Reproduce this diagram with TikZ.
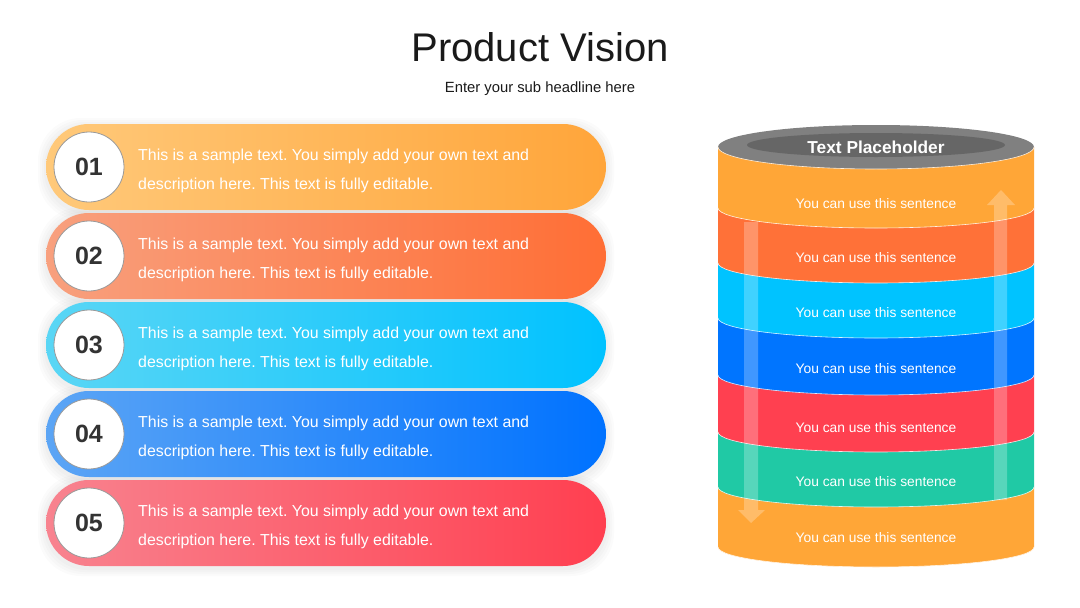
\documentclass[tikz,border=0pt]{standalone}
\usepackage{fontspec}
\setmainfont{Liberation Sans}
\frenchspacing
\begin{document}
\begin{tikzpicture}[x=1pt,y=-1pt,
  pill/.style={minimum width=560pt,minimum height=86pt,rounded corners=43pt,inner sep=0pt},
  pshadow/.style={fill=black,fill opacity=0.014,rounded corners=43pt},
  numcirc/.style={circle,fill=white,draw=black!40,line width=0.8pt,minimum size=70pt,inner sep=0pt,
    font=\fontsize{25}{28}\selectfont\bfseries,text=black!80},
  desc/.style={anchor=west,align=left,text=white,inner sep=0pt,font=\fontsize{15.9}{29}\selectfont},
  bandtxt/.style={text=white,inner sep=0pt,font=\fontsize{13.8}{16}\selectfont},
  arr/.style={fill=white,fill opacity=0.25}]
\useasboundingbox (0,0) rectangle (1080,608);
\fill[white] (0,0) rectangle (1080,608);
\definecolor{pAl}{HTML}{FFC97A}\definecolor{pAr}{HTML}{FFA53A}
\definecolor{pBl}{HTML}{F8A07E}\definecolor{pBr}{HTML}{FF6E35}
\definecolor{pCl}{HTML}{5AD6F5}\definecolor{pCr}{HTML}{00C2FF}
\definecolor{pDl}{HTML}{5CA5F5}\definecolor{pDr}{HTML}{0072FF}
\definecolor{pEl}{HTML}{F8838F}\definecolor{pEr}{HTML}{FF3F50}
\definecolor{bOr}{HTML}{FFA637}\definecolor{bRo}{HTML}{FF7138}
\definecolor{bCy}{HTML}{00C3FF}\definecolor{bBl}{HTML}{0075FF}
\definecolor{bRd}{HTML}{FF4050}\definecolor{bGr}{HTML}{20C9A5}
\definecolor{topG}{HTML}{808080}\definecolor{topI}{HTML}{666666}
\definecolor{ttl}{HTML}{1A1A1A}

% title
\node[text=ttl,font=\fontsize{40}{44}\selectfont,inner sep=0pt] (title) at (540,47) {Product Vision};
\node[text=ttl,font=\fontsize{14.8}{16}\selectfont,inner sep=0pt] (sub) at (540,89) {Enter your sub headline here};

% pill shadows
\foreach \yc in {167,256,345,434,523}{
  \foreach \e in {2,4,6,8}{
    \fill[pshadow] (46-\e,\yc-43-\e+2) rectangle (606+\e,\yc+43+\e+2);
  }
}
% pills
\node[pill,left color=pAl,right color=pAr] (p1) at (326,167) {};
\node[pill,left color=pBl,right color=pBr] (p2) at (326,256) {};
\node[pill,left color=pCl,right color=pCr] (p3) at (326,345) {};
\node[pill,left color=pDl,right color=pDr] (p4) at (326,434) {};
\node[pill,left color=pEl,right color=pEr] (p5) at (326,523) {};

\node[numcirc] (c1) at (89,167) {01};
\node[numcirc] (c2) at (89,256) {02};
\node[numcirc] (c3) at (89,345) {03};
\node[numcirc] (c4) at (89,434) {04};
\node[numcirc] (c5) at (89,523) {05};

\foreach \i/\yc in {1/167,2/256,3/345,4/434,5/523}{
  \node[desc] (t\i) at (138,\yc+4) {This is a sample text. You simply add your own text and\\description here. This text is fully editable.};
}

% cylinder bands (bottom to top)
\newcommand{\cylband}[3]{%
  \fill[#3] (718,#1) -- (718,#2) arc[start angle=180,end angle=360,x radius=158pt,y radius=20pt] -- (1034,#1) -- cycle;
  \draw[white!85!#3,line width=0.6pt] (718,#2) arc[start angle=180,end angle=360,x radius=158pt,y radius=20pt];
}
\cylband{487}{547}{bOr}
\cylband{432}{487}{bGr}
\cylband{375}{432}{bRd}
\cylband{318}{375}{bBl}
\cylband{263}{318}{bCy}
\cylband{208}{263}{bRo}
\cylband{147}{208}{bOr}
% top
\fill[topG] (876,147) ellipse[x radius=158pt,y radius=22pt];
\draw[white!80!bOr,line width=0.6pt] (718,147) arc[start angle=180,end angle=360,x radius=158pt,y radius=22pt];
\fill[topI] (876,145) ellipse[x radius=129pt,y radius=12pt];
\node[text=white,font=\fontsize{17.3}{19}\selectfont\bfseries,inner sep=0pt] (tp) at (876,147) {Text Placeholder};

% arrows
\fill[arr] (994,500) -- (994,205) -- (987,205) -- (1001,190) -- (1015,205) -- (1007,205) -- (1007,500) -- cycle;
\fill[arr] (744,222) -- (744,510) -- (738,510) -- (751,523) -- (765,510) -- (758,510) -- (758,222) -- cycle;

% band texts
\foreach \i/\yc in {1/204,2/258,3/313,4/369,5/428,6/482,7/538}{
  \node[bandtxt] (b\i) at (876,\yc) {You can use this sentence};
}
\end{tikzpicture}
\end{document}
